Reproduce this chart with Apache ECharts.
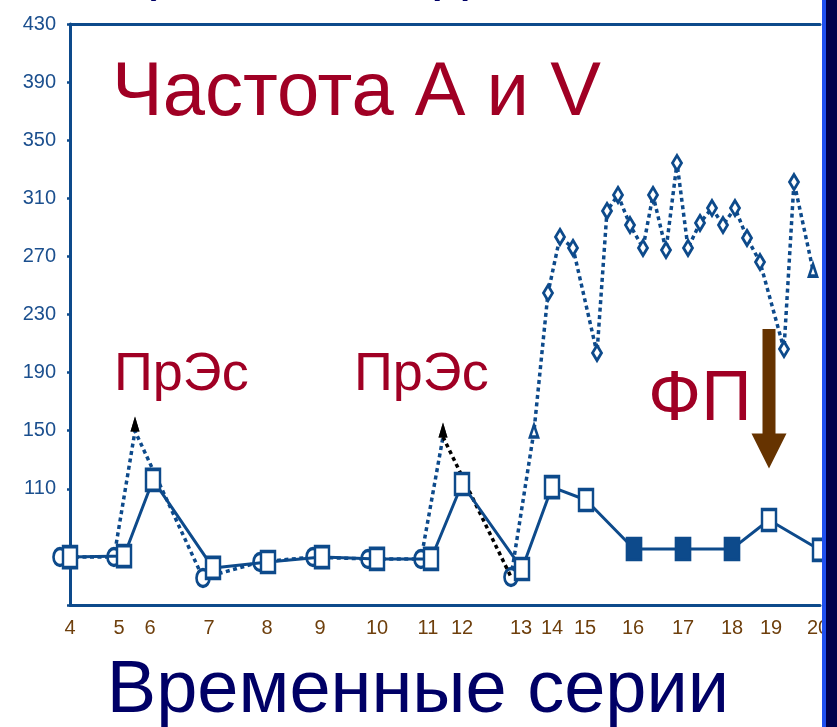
<!DOCTYPE html>
<html>
<head>
<meta charset="utf-8">
<script src="https://cdn.jsdelivr.net/npm/echarts@6/dist/echarts.min.js"></script>
<style>
  html, body { margin: 0; padding: 0; background: #ffffff; }
  #chart { width: 837px; height: 727px; }
</style>
</head>
<body>
<div id="chart"></div>
<script>
// Time-series labels along the horizontal axis and where each sits in time
const seriesLabels = ['4','5','6','7','8','9','10','11','12','13','14','15','16','17','18','19','20'];
const seriesLabelAt = [0, 9.8, 16, 27.8, 39.4, 50, 61.4, 71.6, 78.4, 90.2, 96.4, 103, 112.6, 122.6, 132.4, 140.2, 149.6];

// Ventricular rate (V)
const vTime = [-11, 0, 10.8, 16.6, 28.6, 39.6, 50.4, 61.4, 72.2, 78.4, 90.4, 96.4, 103.2, 112.8, 122.6, 132.4, 139.8, 150];
const vRate = [62.4, 63.0, 63.7, 116.1, 55.5, 59.6, 63.0, 61.7, 61.7, 113.3, 54.8, 111.2, 102.3, 68.6, 68.6, 68.6, 88.5, 67.9];
const vKind = ['trace','open','open','open','open','open','open','open','open','open','open','open','open','filled','filled','filled','open','open'];

// Atrial rate (A)
const aTime = [-2, 8.8, 13, 26.6, 38, 48.6, 59.6, 70.2, 74.6, 88.2, 92.8,
  95.6, 98, 100.6, 105.4, 107.4, 109.6, 112, 114.6, 116.6, 119.2, 121.4, 123.6, 126, 128.4, 130.6, 133, 135.4, 138, 142.8, 144.8, 148.6];
const aRate = [63.0, 63.0, 149.8, 48.6, 59.6, 63.0, 61.7, 61.7, 145.7, 49.3, 149.8,
  244.8, 283.4, 275.8, 203.5, 301.3, 312.3, 291.6, 275.8, 312.3, 274.4, 334.3, 275.8, 293.0, 303.3, 291.6, 303.3, 282.7, 266.1, 206.2, 321.2, 260.6];
const aKind = ['sinus','sinus','premature','sinus','sinus','sinus','sinus','sinus','premature','sinus','onset',
  'fast','fast','fast','fast','fast','fast','fast','fast','fast','fast','fast','fast','fast','fast','fast','fast','fast','fast','fast','fast','end'];

// Y axis range and step
const rateMin = 30, rateMax = 430, rateStep = 40, rateFirstLabel = 110;

const BLUE = '#0d4a8b';
const FONT = "'Liberation Sans', Arial, sans-serif";
const ELLIPSE = 'path://M0,10 A10,10 0 1,1 20,10 A10,10 0 1,1 0,10 Z';

function aSymbol(kind) {
  if (kind === 'sinus') return { symbol: ELLIPSE, symbolSize: [13, 17], itemStyle: { color: '#fff', borderColor: BLUE, borderWidth: 3 } };
  if (kind === 'premature') return { symbol: 'triangle', symbolSize: [9, 15], symbolOffset: [0, -7], itemStyle: { color: '#000', borderWidth: 0 } };
  if (kind === 'onset' || kind === 'end') return { symbol: 'triangle', symbolSize: [8, 12], itemStyle: { color: '#fff', borderColor: BLUE, borderWidth: 3 } };
  return { symbol: 'diamond', symbolSize: [9, 15], itemStyle: { color: '#fff', borderColor: BLUE, borderWidth: 3 } };
}
function vSymbol(kind) {
  if (kind === 'trace') return { symbol: 'none' };
  if (kind === 'filled') return { symbol: 'rect', symbolSize: [15, 22], itemStyle: { color: BLUE, borderColor: BLUE, borderWidth: 2 } };
  return { symbol: 'rect', symbolSize: [14, 21], itemStyle: { color: '#fff', borderColor: BLUE, borderWidth: 3 } };
}

const aItems = aTime.map((t, i) => Object.assign({ value: [t, aRate[i]] }, aSymbol(aKind[i])));
const vItems = vTime.map((t, i) => Object.assign({ value: [t, vRate[i]] }, vSymbol(vKind[i])));

// the black dotted link runs from the second premature beat down to the next beat
const secondPremature = aKind.indexOf('premature', 3);
const aBefore = aItems.slice(0, secondPremature + 1);
const aAfter = aItems.slice(secondPremature + 1);
const aLink = [aTime[secondPremature], aTime[secondPremature + 1]].map((t, k) => [t, aRate[secondPremature + k]]);

const dotted = { type: [4, 3.5], width: 3.5, cap: 'butt' };

const chart = echarts.init(document.getElementById('chart'), null, { renderer: 'canvas' });

const option = {
  animation: false,
  backgroundColor: '#ffffff',
  grid: { left: 70, right: 17, top: 24, bottom: 122, containLabel: false },
  xAxis: [{
    type: 'value', min: 0, max: 150,
    axisLine: { show: true, onZero: false, lineStyle: { color: BLUE, width: 3 } },
    axisTick: { show: false },
    splitLine: { show: false },
    axisLabel: {
      customValues: seriesLabelAt,
      formatter: function (v) {
        let best = 0;
        seriesLabelAt.forEach((p, i) => { if (Math.abs(p - v) < Math.abs(seriesLabelAt[best] - v)) best = i; });
        return seriesLabels[best];
      },
      color: '#6e3f0c', fontSize: 20, fontFamily: FONT, margin: 13
    }
  }, {
    type: 'value', position: 'top', min: 0, max: 150,
    axisLine: { show: true, onZero: false, lineStyle: { color: BLUE, width: 3 } },
    axisTick: { show: false }, axisLabel: { show: false }, splitLine: { show: false }
  }],
  yAxis: {
    type: 'value', min: rateMin, max: rateMax, interval: rateStep,
    axisLine: { show: true, onZero: false, lineStyle: { color: BLUE, width: 3 } },
    axisTick: { show: true, length: 3, lineStyle: { color: BLUE, width: 2.5 } },
    splitLine: { show: false },
    axisLabel: {
      formatter: v => (v >= rateFirstLabel ? String(v) : ''),
      color: '#1b4f8e', fontSize: 20, fontFamily: FONT, margin: 14, padding: [0, 0, 8, 0]
    }
  },
  series: [
    {
      name: 'A', type: 'line', data: aBefore, clip: false, z: 2,
      lineStyle: Object.assign({ color: BLUE }, dotted)
    },
    {
      name: 'A', type: 'line', data: aAfter, clip: false, z: 2,
      lineStyle: Object.assign({ color: BLUE }, dotted)
    },
    {
      name: 'A-link', type: 'line', data: aLink, clip: false, z: 3, symbol: 'none',
      lineStyle: Object.assign({ color: '#000000' }, dotted)
    },
    {
      name: 'V', type: 'line', data: vItems, clip: false, z: 4,
      lineStyle: { color: BLUE, width: 3 }
    },
    {
      // premature-beat arrowheads drawn above everything else
      name: 'A-peaks', type: 'scatter', z: 5, clip: false,
      data: aItems.filter((d, i) => aKind[i] === 'premature')
    }
  ],
  graphic: []
};

chart.setOption(option);

// annotation arrow over series 19
const fpT = vTime[vKind.length - 2];
const arrowTop = chart.convertToPixel({ gridIndex: 0 }, [fpT, 220]);
const arrowTip = chart.convertToPixel({ gridIndex: 0 }, [fpT, 124]);
const ax = arrowTop[0];
const headTop = arrowTip[1] - 35;

chart.setOption({
  graphic: [
    { type: 'text', x: 138, y: -26, z: 50,
      style: { text: '(ЭКГ Холтер)', font: '56px ' + FONT, fill: '#000066', align: 'left', verticalAlign: 'middle' } },
    { type: 'text', x: 112, y: 94, z: 50,
      style: { text: 'Частота А и V', font: '76px ' + FONT, fill: '#a00024', align: 'left', verticalAlign: 'middle' } },
    { type: 'text', x: 114, y: 375, z: 50,
      style: { text: 'ПрЭс', font: '54px ' + FONT, fill: '#a00024', align: 'left', verticalAlign: 'middle' } },
    { type: 'text', x: 354, y: 375, z: 50,
      style: { text: 'ПрЭс', font: '54px ' + FONT, fill: '#a00024', align: 'left', verticalAlign: 'middle' } },
    { type: 'text', x: 648, y: 401, z: 50,
      style: { text: 'ФП', font: '70px ' + FONT, fill: '#a00024', align: 'left', verticalAlign: 'middle' } },
    { type: 'text', x: 418, y: 692, z: 50,
      style: { text: 'Временные серии', font: '74px ' + FONT, fill: '#000066', align: 'center', verticalAlign: 'middle' } },
    { type: 'rect', z: 60, shape: { x: ax - 6.5, y: arrowTop[1], width: 13, height: headTop - arrowTop[1] + 1 },
      style: { fill: '#663300' } },
    { type: 'polygon', z: 60, shape: { points: [[ax - 17.5, headTop], [ax + 17.5, headTop], [ax, arrowTip[1]]] },
      style: { fill: '#663300' } },
    { type: 'rect', z: 100, shape: { x: 822, y: 0, width: 4, height: 727 }, style: { fill: '#1f50f0' } },
    { type: 'rect', z: 100, shape: { x: 826, y: 0, width: 11, height: 727 }, style: { fill: '#00004c' } }
  ]
});
</script>
</body>
</html>
